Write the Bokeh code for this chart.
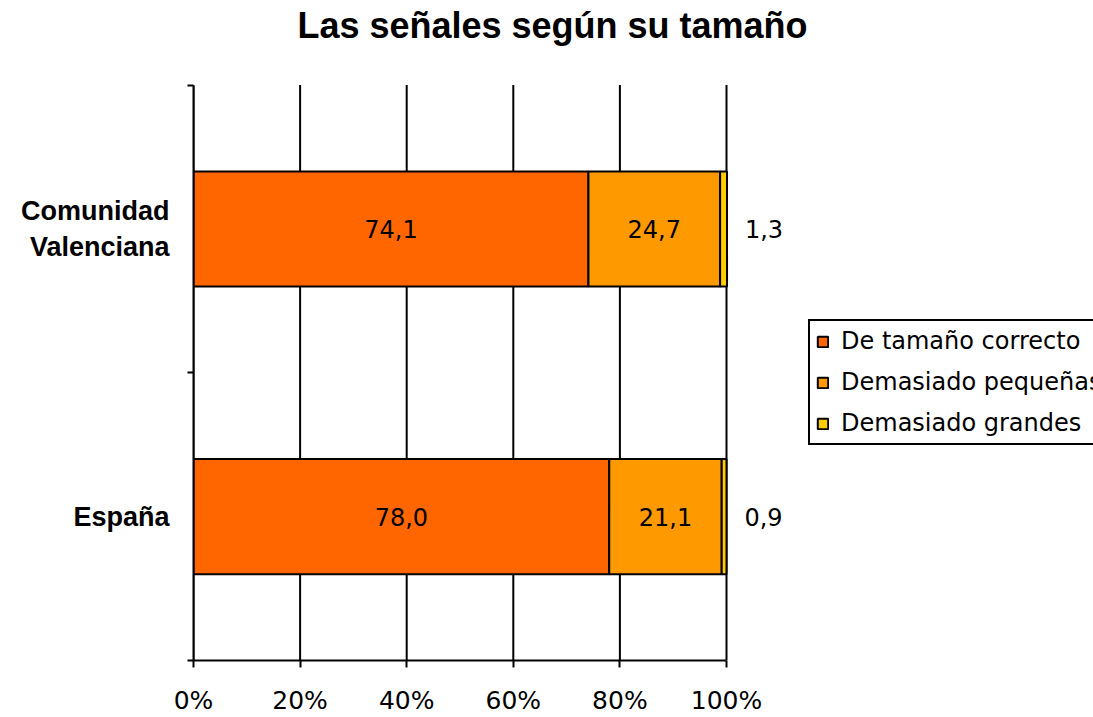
from bokeh.plotting import figure
from bokeh.models import (Range1d, FixedTicker, ColumnDataSource, Legend, LegendItem, Label)
from bokeh.core.properties import value
from bokeh.embed import file_html
from bokeh.resources import INLINE

# ---- data ----
title_text = "Las señales según su tamaño"
categories = ["España", "Comunidad\nValenciana"]
series_names = ["De tamaño correcto", "Demasiado pequeñas", "Demasiado grandes"]
correcto = [78.0, 74.1]
pequenas = [21.1, 24.7]
grandes = [0.9, 1.3]
x_ticks = [0, 20, 40, 60, 80, 100]
x_tick_labels = ["0%", "20%", "40%", "60%", "80%", "100%"]
colors = ["#FF6600", "#FF9900", "#FFCC00"]

def fmt(v):
    return f"{v:.1f}".replace(".", ",")

W, H = 1093, 717
LEFT, TOP, BOTTOM = 193, 85, 54
frame_w = W - LEFT
px_per_100 = 533.0
x_end = x_ticks[-1] * frame_w / px_per_100
ncat = len(categories)
px_per_cat = (H - BOTTOM - TOP) / ncat
y_end = ncat + TOP / px_per_cat

ypos = [i + 0.5 for i in range(ncat)]

p = figure(width=W, height=H, output_backend="svg", toolbar_location=None,
           x_range=Range1d(0, x_end), y_range=Range1d(0, y_end),
           min_border_left=LEFT, min_border_right=0, min_border_top=0,
           min_border_bottom=BOTTOM, title=None)
p.outline_line_color = None
p.background_fill_color = "white"
p.border_fill_color = "white"

# vertical grid lines (limited to the category area)
p.segment(x0=x_ticks, y0=[0] * len(x_ticks), x1=x_ticks, y1=[ncat] * len(x_ticks),
          line_color="black", line_width=2)

# stacked bars
series = [correcto, pequenas, grandes]
lefts = [0.0] * ncat
renderers = []
for vals, col in zip(series, colors):
    rights = [l + v for l, v in zip(lefts, vals)]
    src = ColumnDataSource(dict(y=ypos, left=lefts, right=rights,
                                mid=[(l + r) / 2 for l, r in zip(lefts, rights)],
                                lab=[fmt(v) for v in vals]))
    r = p.hbar(y="y", left="left", right="right", height=0.4, source=src,
               fill_color=col, line_color="black", line_width=2)
    renderers.append((r, src))
    lefts = rights

# in-bar labels for first two series
for r, src in renderers[:2]:
    p.text(x="mid", y="y", text="lab", source=src, text_align="center",
           text_baseline="middle", text_font=value("DejaVu Sans"),
           text_font_size="24px", text_color="black")

# outside labels for third series
p.text(x="right", y="y", text="lab", source=renderers[2][1], x_offset=37,
       text_align="center", text_baseline="middle", text_font=value("DejaVu Sans"),
       text_font_size="24px", text_color="black")

# axes
p.xaxis.ticker = FixedTicker(ticks=x_ticks)
p.xaxis.bounds = (x_ticks[0], x_ticks[-1])
p.xaxis.major_label_overrides = {t: l for t, l in zip(x_ticks, x_tick_labels)}
p.xaxis.major_tick_out = 7
p.xaxis.major_tick_in = 0
p.xaxis.minor_tick_line_color = None
p.xaxis.axis_line_color = "black"
p.xaxis.axis_line_width = 2
p.xaxis.major_tick_line_width = 2
p.xaxis.major_tick_line_color = "black"
p.xaxis.major_label_text_font = "DejaVu Sans"
p.xaxis.major_label_text_font_size = "25px"
p.xaxis.major_label_text_color = "black"
p.xaxis.major_label_standoff = 18

p.yaxis.ticker = FixedTicker(ticks=ypos, minor_ticks=list(range(ncat + 1)))
p.yaxis.bounds = (0, ncat)
p.yaxis.major_label_overrides = {y: c for y, c in zip(ypos, categories)}
p.yaxis.major_tick_line_color = None
p.yaxis.major_tick_out = 0
p.yaxis.minor_tick_out = 6
p.yaxis.minor_tick_in = 0
p.yaxis.minor_tick_line_color = "black"
p.yaxis.minor_tick_line_width = 2
p.yaxis.axis_line_color = "black"
p.yaxis.axis_line_width = 2
p.yaxis.major_label_text_font = "Liberation Sans"
p.yaxis.major_label_text_font_style = "bold"
p.yaxis.major_label_text_font_size = "27px"
p.yaxis.major_label_text_color = "black"
p.yaxis.major_label_standoff = 18

p.xgrid.grid_line_color = None
p.ygrid.grid_line_color = None

# title (inside the extended frame, above the category area)
p.add_layout(Label(x=552 - LEFT, y=H - BOTTOM - 28, x_units="screen", y_units="screen",
                   text=title_text, text_align="center", text_baseline="alphabetic",
                   text_font="Liberation Sans", text_font_style="bold",
                   text_font_size="36px", text_color="black"))

# legend
legend = Legend(items=[LegendItem(label=n, renderers=[r]) for n, (r, _) in zip(series_names, renderers)],
                location=(615, 215), orientation="vertical",
                border_line_color="black", border_line_width=2, border_line_alpha=1.0,
                background_fill_color="white", background_fill_alpha=1.0,
                glyph_width=13, glyph_height=13, label_standoff=12,
                padding=6, margin=0, spacing=13,
                label_text_font="DejaVu Sans", label_text_font_size="24px",
                label_text_color="black", label_height=28)
p.add_layout(legend)

open("out.html", "w").write(file_html(p, INLINE))
